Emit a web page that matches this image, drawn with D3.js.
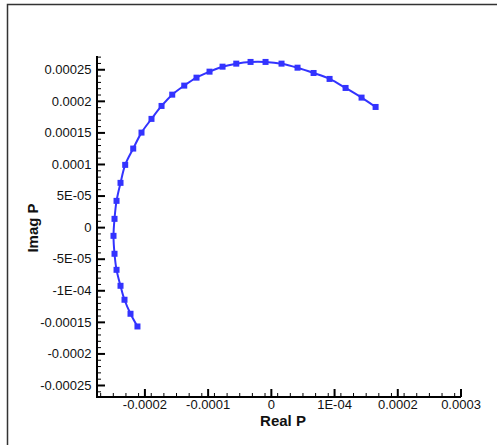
<!DOCTYPE html>
<html>
<head>
<meta charset="utf-8">
<script src="https://cdn.jsdelivr.net/npm/d3@7"></script>
<style>
  html, body { margin: 0; padding: 0; background: #fff; overflow: hidden; }
  svg { display: block; font-family: "Liberation Sans", Arial, sans-serif; }
</style>
</head>
<body>
<div id="chart"></div>
<script>
// values
const realP = [
  -2.11e-4, -2.22e-4, -2.315e-4, -2.378e-4, -2.441e-4, -2.473e-4, -2.489e-4, -2.473e-4,
  -2.441e-4, -2.378e-4, -2.304e-4, -2.177e-4, -2.046e-4, -1.888e-4, -1.729e-4, -1.56e-4,
  -1.37e-4, -1.176e-4, -0.97e-4, -0.764e-4, -0.547e-4, -0.321e-4, -0.084e-4, 0.169e-4,
  0.422e-4, 0.676e-4, 0.929e-4, 1.182e-4, 1.435e-4, 1.657e-4
];
const imagP = [
  -1.573e-4, -1.372e-4, -1.15e-4, -0.929e-4, -0.676e-4, -0.422e-4, -0.138e-4, 0.131e-4,
  0.416e-4, 0.701e-4, 0.986e-4, 1.244e-4, 1.497e-4, 1.714e-4, 1.919e-4, 2.098e-4,
  2.241e-4, 2.367e-4, 2.462e-4, 2.541e-4, 2.589e-4, 2.616e-4, 2.616e-4, 2.589e-4,
  2.525e-4, 2.441e-4, 2.347e-4, 2.204e-4, 2.051e-4, 1.903e-4
];

const xTickValues = [-0.0002, -0.0001, 0, 0.0001, 0.0002, 0.0003];
const xTickLabels = ["-0.0002", "-0.0001", "0", "1E-04", "0.0002", "0.0003"];
const yTickValues = [0.00025, 0.0002, 0.00015, 0.0001, 0.00005, 0, -0.00005, -0.0001, -0.00015, -0.0002, -0.00025];
const yTickLabels = ["0.00025", "0.0002", "0.00015", "0.0001", "5E-05", "0", "-5E-05", "-1E-04", "-0.00015", "-0.0002", "-0.00025"];

const width = 497, height = 445;
const color = "#3333ff";

const svg = d3.select("#chart").append("svg")
  .attr("width", width)
  .attr("height", height);

// outer frame (only left and top edges fall inside the window)
svg.append("rect")
  .attr("x", 7.5).attr("y", 4.5)
  .attr("width", 700).attr("height", 700)
  .attr("fill", "none")
  .attr("stroke", "#333")
  .attr("stroke-width", 1.5);

const x = d3.scaleLinear().domain([-0.000275, 0.0003]).range([97, 460.5]);
const y = d3.scaleLinear().domain([-0.000269, 0.000271]).range([397, 56]);

const xMinor = d3.range(-27, 31, 2).map(v => v * 1e-5).filter(v => Math.abs(Math.round(v * 1e5) % 10) !== 0);
const yMinor = d3.range(-26, 28, 1).map(v => v * 1e-5).filter(v => Math.abs(Math.round(v * 1e5) % 5) !== 0);

const x0 = 397, y0 = 97;

// minor ticks
svg.append("g")
  .attr("transform", `translate(0,${x0})`)
  .call(d3.axisBottom(x).tickValues(xMinor).tickSize(-4).tickFormat(""))
  .call(g => g.select(".domain").remove())
  .call(g => g.selectAll("line").attr("stroke", "#000").attr("stroke-width", 1));

svg.append("g")
  .attr("transform", `translate(${y0},0)`)
  .call(d3.axisLeft(y).tickValues(yMinor).tickSize(-4).tickFormat(""))
  .call(g => g.select(".domain").remove())
  .call(g => g.selectAll("line").attr("stroke", "#000").attr("stroke-width", 1));

// major ticks + labels
svg.append("g")
  .attr("transform", `translate(0,${x0})`)
  .call(d3.axisBottom(x).tickValues(xTickValues).tickSize(-8).tickPadding(3)
    .tickFormat((d, i) => xTickLabels[i]))
  .call(g => g.select(".domain").remove())
  .call(g => g.selectAll("line").attr("stroke", "#000").attr("stroke-width", 2))
  .call(g => g.selectAll("text").attr("font-size", 13).attr("fill", "#111")
    .attr("font-family", "Liberation Sans, Arial, sans-serif"));

svg.append("g")
  .attr("transform", `translate(${y0},0)`)
  .call(d3.axisLeft(y).tickValues(yTickValues).tickSize(-8).tickPadding(5.5)
    .tickFormat((d, i) => yTickLabels[i]))
  .call(g => g.select(".domain").remove())
  .call(g => g.selectAll("line").attr("stroke", "#000").attr("stroke-width", 2))
  .call(g => g.selectAll("text").attr("font-size", 13).attr("fill", "#111")
    .attr("font-family", "Liberation Sans, Arial, sans-serif"));

// axis lines
svg.append("line")
  .attr("x1", y0).attr("x2", y0).attr("y1", 56).attr("y2", x0 + 1)
  .attr("stroke", "#000").attr("stroke-width", 2);
svg.append("line")
  .attr("x1", y0 - 1).attr("x2", 461).attr("y1", x0).attr("y2", x0)
  .attr("stroke", "#000").attr("stroke-width", 2);

// titles
svg.append("text")
  .attr("x", 283).attr("y", 426)
  .attr("text-anchor", "middle")
  .attr("font-size", 15).attr("font-weight", "bold").attr("fill", "#111")
  .text("Real P");

svg.append("text")
  .attr("transform", "translate(38,228) rotate(-90)")
  .attr("text-anchor", "middle")
  .attr("font-size", 15).attr("font-weight", "bold").attr("fill", "#111")
  .text("Imag P");

// series
const data = realP.map((r, i) => ({ r, im: imagP[i] }));

svg.append("path")
  .datum(data)
  .attr("fill", "none")
  .attr("stroke", color)
  .attr("stroke-width", 2)
  .attr("d", d3.line().x(d => x(d.r)).y(d => y(d.im)).curve(d3.curveCatmullRom));

svg.selectAll(".pt")
  .data(data)
  .join("rect")
  .attr("class", "pt")
  .attr("x", d => x(d.r) - 3)
  .attr("y", d => y(d.im) - 3)
  .attr("width", 6)
  .attr("height", 6)
  .attr("fill", color);
</script>
</body>
</html>
